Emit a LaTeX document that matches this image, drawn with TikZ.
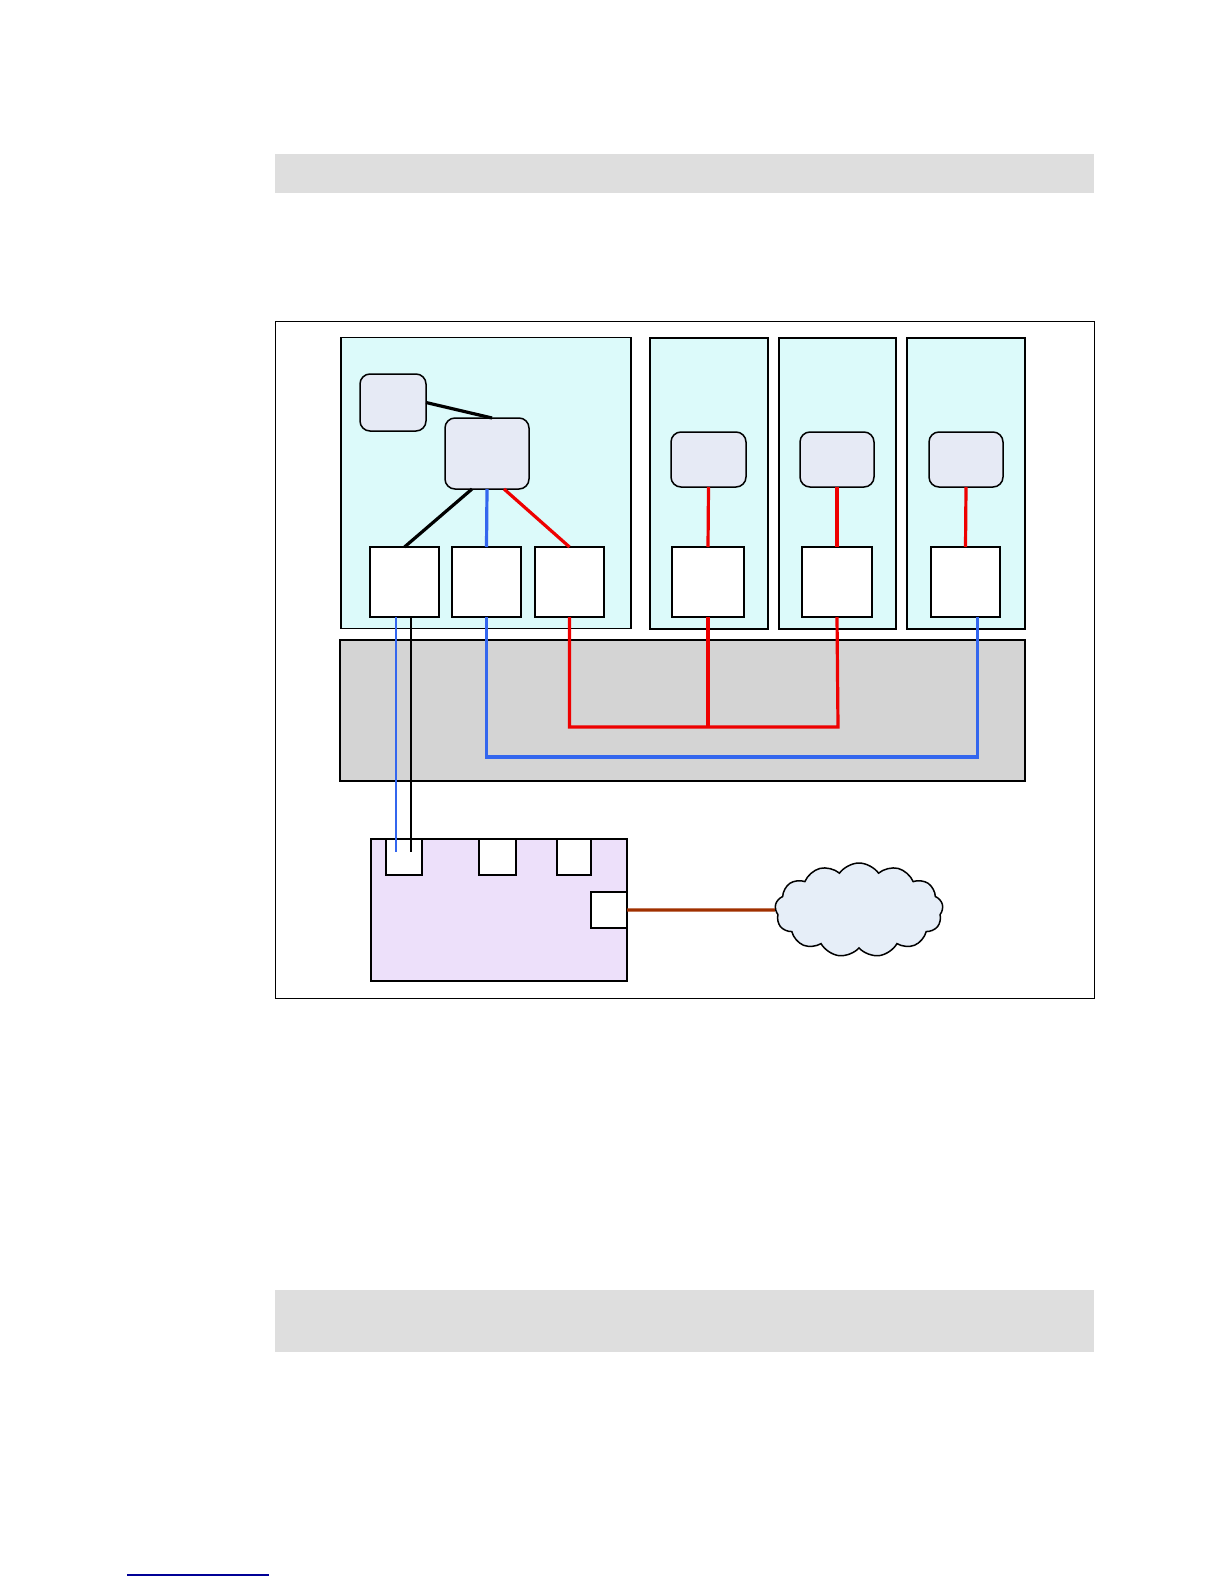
\documentclass[tikz,border=0pt]{standalone}
\usetikzlibrary{shapes.symbols,calc}
\definecolor{panelc}{RGB}{220,250,250}
\definecolor{roundc}{RGB}{230,234,245}
\definecolor{purplec}{RGB}{237,224,250}
\definecolor{grayc}{RGB}{212,212,212}
\definecolor{barc}{RGB}{222,222,222}
\definecolor{cloudc}{RGB}{230,238,248}
\definecolor{bluel}{RGB}{51,102,238}
\definecolor{redl}{RGB}{238,0,0}
\definecolor{brownl}{RGB}{160,48,0}
\definecolor{linkc}{RGB}{0,0,150}
\tikzset{
  box/.style={draw=black, line width=1.5pt, inner sep=0pt, outer sep=0pt},
  panel/.style={box, fill=panelc},
  rbox/.style={box, fill=roundc, rounded corners=10pt},
  wbox/.style={box, fill=white},
  bar/.style={fill=barc, draw=none, inner sep=0pt},
  conn/.style={line width=3.2pt},
  thinconn/.style={line width=2.6pt},
}
\begin{document}
\begin{tikzpicture}[x=1pt,y=-1pt]
\useasboundingbox (0,0) rectangle (1224,1584);
% top and bottom gray bars
\node[bar, minimum width=819pt, minimum height=39.5pt] (topbar) at (684.5,173.25) {};
\node[bar, minimum width=819pt, minimum height=62pt] (botbar) at (684.5,1321) {};
% link line at bottom
\draw[linkc, line width=1.2pt] (127,1575) coordinate (l1) -- (269,1575) coordinate (l2);
% outer frame
\node[draw=black, line width=0.8pt, inner sep=0pt, minimum width=819pt, minimum height=677pt] (frame) at (684.5,659.5) {};
% panels
\node[panel, minimum width=290pt, minimum height=291pt] (p1) at (486,483) {};
\node[panel, minimum width=118pt, minimum height=291pt] (p2) at (709,483.5) {};
\node[panel, minimum width=117pt, minimum height=291pt] (p3) at (837.5,483.5) {};
\node[panel, minimum width=118pt, minimum height=291pt] (p4) at (966,483.5) {};
% gray box
\node[box, fill=grayc, minimum width=685pt, minimum height=141pt] (gray) at (682.5,710.5) {};
% rounded boxes
\node[rbox, minimum width=66pt, minimum height=57pt] (small) at (393,402.5) {};
\node[rbox, minimum width=84pt, minimum height=71pt] (big) at (487,453.5) {};
\node[rbox, minimum width=75pt, minimum height=55pt] (r2) at (708.5,459.5) {};
\node[rbox, minimum width=74pt, minimum height=55pt] (r3) at (837,459.5) {};
\node[rbox, minimum width=74pt, minimum height=55pt] (r4) at (966,459.5) {};
% white boxes
\node[wbox, minimum width=69pt, minimum height=70pt] (b1) at (404.5,582) {};
\node[wbox, minimum width=69pt, minimum height=70pt] (b2) at (486.5,582) {};
\node[wbox, minimum width=69pt, minimum height=70pt] (b3) at (569.5,582) {};
\node[wbox, minimum width=72pt, minimum height=70pt] (s2) at (708,582) {};
\node[wbox, minimum width=70pt, minimum height=70pt] (s3) at (837,582) {};
\node[wbox, minimum width=69pt, minimum height=70pt] (s4) at (965.5,582) {};
% purple device
\node[box, fill=purplec, minimum width=256pt, minimum height=142pt] (dev) at (499,910) {};
\node[wbox, minimum width=36pt, minimum height=36pt] (q1) at (404,857) {};
\node[wbox, minimum width=37pt, minimum height=36pt] (q2) at (497.5,857) {};
\node[wbox, minimum width=34pt, minimum height=36pt] (q3) at (574,857) {};
\node[wbox, minimum width=36pt, minimum height=36pt] (q4) at (609,910) {};
% cloud
\node[cloud, draw=black, line width=1.5pt, fill=cloudc, cloud puffs=13, cloud puff arc=110, aspect=1.8, minimum width=168pt, minimum height=94pt, inner sep=0pt] (cloud) at (859,910) {};
% coordinates for buses
\coordinate (redbus) at (0,727);
\coordinate (bluebus) at (0,757);
% connectors in left panel
\draw[conn, black] (small.east) -- ([xshift=5pt]big.north);
\draw[conn, black] ([xshift=-15pt]big.south) -- (b1.north);
\draw[conn, bluel] (big.south) -- (b2.north);
\draw[conn, redl] ([xshift=17pt]big.south) -- (b3.north);
% connectors in other panels
\draw[conn, redl] (r2.south) -- (s2.north);
\draw[conn, redl] (r3.south) -- (s3.north);
\draw[conn, redl] (r4.south) -- (s4.north);
% red bus
\draw[conn, redl] (b3.south) -- (b3.south |- redbus) -- ([xshift=1pt]s3.south |- redbus) -- (s3.south);
\draw[conn, redl] (s2.south) -- (s2.south |- redbus);
% blue bus
\draw[conn, bluel] (b2.south) -- (b2.south |- bluebus) -- ([xshift=12pt]s4.south |- bluebus) -- ([xshift=12pt]s4.south);
% b1 to device port
\draw[thinconn, bluel] ([xshift=-8.5pt]b1.south) -- ([xshift=-8pt,yshift=5pt]q1.center);
\draw[thinconn, black] ([xshift=6.5pt]b1.south) -- ([xshift=7pt,yshift=5pt]q1.center);
% device to cloud
\draw[conn, brownl] (q4.east) -- (cloud.west);
\end{tikzpicture}
\end{document}
